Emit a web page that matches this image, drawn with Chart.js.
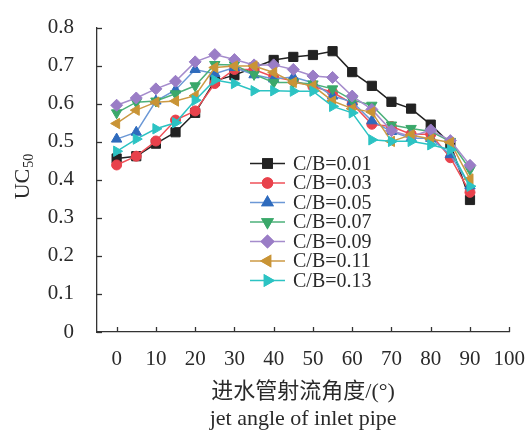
<!DOCTYPE html>
<html>
<head>
<meta charset="UTF-8" />
<title>UC50</title>
<script src="https://cdn.jsdelivr.net/npm/chart.js@4.4.0/dist/chart.umd.min.js"></script>
<style>
	html, body { margin: 0; padding: 0; background: #fff; }
	.chart { width: 532px; height: 434px; position: relative; }
</style>
</head>
<body>
<div class="chart"><canvas id="ucChart"></canvas></div>
<script>
// угол струи, град
var angles = [0, 5, 10, 15, 20, 25, 30, 35, 40, 45, 50, 55, 60, 65, 70, 75, 80, 85, 90];

var cb001 = [0.456, 0.462, 0.495, 0.525, 0.576, 0.660, 0.675, 0.695, 0.715, 0.723, 0.728, 0.738, 0.683, 0.647, 0.605, 0.587, 0.545, 0.495, 0.347];
var cb003 = [0.439, 0.462, 0.502, 0.557, 0.581, 0.653, 0.690, 0.690, 0.670, 0.660, 0.645, 0.630, 0.600, 0.546, 0.540, 0.520, 0.520, 0.458, 0.367];
var cb005 = [0.507, 0.525, 0.607, 0.636, 0.690, 0.679, 0.695, 0.676, 0.665, 0.670, 0.655, 0.620, 0.605, 0.555, 0.527, 0.509, 0.509, 0.466, 0.384];
var cb007 = [0.576, 0.604, 0.607, 0.626, 0.647, 0.703, 0.702, 0.677, 0.656, 0.656, 0.652, 0.639, 0.610, 0.596, 0.544, 0.535, 0.527, 0.501, 0.427];
var cb009 = [0.596, 0.615, 0.639, 0.659, 0.710, 0.729, 0.716, 0.702, 0.702, 0.690, 0.673, 0.669, 0.620, 0.585, 0.529, 0.514, 0.531, 0.503, 0.438];
var cb011 = [0.548, 0.583, 0.604, 0.607, 0.621, 0.695, 0.699, 0.699, 0.682, 0.656, 0.647, 0.607, 0.587, 0.578, 0.501, 0.518, 0.507, 0.498, 0.402];
var cb013 = [0.475, 0.507, 0.534, 0.550, 0.609, 0.662, 0.653, 0.634, 0.634, 0.633, 0.633, 0.593, 0.576, 0.505, 0.501, 0.501, 0.492, 0.479, 0.383];

var seriesNames = ['C/B=0.01', 'C/B=0.03', 'C/B=0.05', 'C/B=0.07', 'C/B=0.09', 'C/B=0.11', 'C/B=0.13'];
var seriesValues = [cb001, cb003, cb005, cb007, cb009, cb011, cb013];

var xTicks = [0, 10, 20, 30, 40, 50, 60, 70, 80, 90, 100];
var yTicks = [0, 0.1, 0.2, 0.3, 0.4, 0.5, 0.6, 0.7, 0.8];

var xTitle = ['进水管射流角度/(°)', 'jet angle of inlet pipe'];

// оформление серий
var markColors = ['#222222', '#e8424c', '#2f6bbd', '#3aa86a', '#9a7dc6', '#c99436', '#2cc3c3'];
var lineColors = ['#222222', '#ef5058', '#6b98d6', '#4cb07a', '#a58ccc', '#cc9a44', '#2cc3c3'];
var shapes = ['rect', 'circle', 'triangle', 'triangle', 'rectRot', 'triangle', 'triangle'];
var rotations = [0, 0, 0, 180, 0, -90, 90];
var radii = [6.5, 5, 6, 6, 6, 6, 6];

var serif = "'Liberation Serif', 'Times New Roman', 'Noto Sans CJK SC', serif";
var textColor = '#2a2a2a';

var datasets = seriesNames.map(function (name, i) {
	return {
		label: name,
		data: angles.map(function (a, j) { return { x: a, y: seriesValues[i][j] }; }),
		borderColor: lineColors[i],
		backgroundColor: markColors[i],
		pointBorderColor: markColors[i],
		pointBackgroundColor: markColors[i],
		pointStyle: shapes[i],
		pointRotation: rotations[i],
		pointRadius: radii[i],
		pointBorderWidth: 1,
		borderWidth: 1.5,
		tension: 0,
		order: seriesNames.length - i
	};
});

// засечки внутрь, подпись UC50 и легенда
var extras = {
	id: 'extras',
	afterDraw: function (chart) {
		var ctx = chart.ctx;
		var xs = chart.scales.x, ys = chart.scales.y;
		var area = chart.chartArea;
		ctx.save();
		ctx.strokeStyle = '#333';
		ctx.lineWidth = 1.3;
		xTicks.forEach(function (v) {
			var px = Math.round(xs.getPixelForValue(v)) + 0.5;
			ctx.beginPath();
			ctx.moveTo(px, area.bottom);
			ctx.lineTo(px, area.bottom - 5);
			ctx.stroke();
		});
		yTicks.forEach(function (v) {
			var py = Math.round(ys.getPixelForValue(v)) + 0.5;
			ctx.beginPath();
			ctx.moveTo(area.left, py);
			ctx.lineTo(area.left + 5, py);
			ctx.stroke();
		});

		// UC50
		ctx.translate(23, 177);
		ctx.rotate(-Math.PI / 2);
		ctx.fillStyle = textColor;
		ctx.textBaseline = 'middle';
		ctx.font = '22px ' + serif;
		var w1 = ctx.measureText('UC').width;
		ctx.font = '14px ' + serif;
		var w2 = ctx.measureText('50').width;
		var sx = -(w1 + w2) / 2;
		ctx.font = '22px ' + serif;
		ctx.textAlign = 'left';
		ctx.fillText('UC', sx, 0);
		ctx.font = '14px ' + serif;
		ctx.fillText('50', sx + w1 + 1, 6);
		ctx.restore();

		// легенда
		ctx.save();
		ctx.font = '20px ' + serif;
		ctx.textBaseline = 'middle';
		ctx.textAlign = 'left';
		chart.data.datasets.forEach(function (ds, i) {
			var y = 163.5 + i * 19.5;
			ctx.strokeStyle = ds.borderColor;
			ctx.lineWidth = 1.5;
			ctx.beginPath();
			ctx.moveTo(250, y);
			ctx.lineTo(285, y);
			ctx.stroke();
			Chart.helpers.drawPoint(ctx, {
				pointStyle: ds.pointStyle,
				rotation: ds.pointRotation,
				radius: ds.pointRadius,
				borderWidth: 1
			}, 267.5, y);
			ctx.fillStyle = ds.backgroundColor;
			ctx.strokeStyle = ds.backgroundColor;
			ctx.fill();
			ctx.stroke();
			ctx.fillStyle = textColor;
			ctx.fillText(ds.label, 293, y + 1);
		});
		ctx.restore();
	}
};

new Chart(document.getElementById('ucChart'), {
	type: 'line',
	data: { datasets: datasets },
	options: {
		responsive: true,
		maintainAspectRatio: false,
		animation: false,
		// отступы подобраны так, чтобы область графика была 97..512 x 22.5..332
		layout: { autoPadding: false, padding: { top: 17.4, right: 17.25, bottom: 0, left: 0 } },
		plugins: {
			legend: { display: false },
			tooltip: { enabled: false }
		},
		scales: {
			x: {
				type: 'linear',
				min: -5,
				max: 100,
				afterBuildTicks: function (scale) {
					scale.ticks = xTicks.map(function (v) { return { value: v }; });
				},
				afterFit: function (scale) { scale.height = 102; },
				grid: { display: false },
				border: { display: true, color: '#333', width: 1.3 },
				ticks: {
					color: textColor,
					padding: 7,
					maxRotation: 0,
					font: { family: serif, size: 21 }
				},
				title: {
					display: true,
					text: xTitle,
					color: textColor,
					padding: { top: 0, bottom: 1 },
					font: { family: serif, size: 22, lineHeight: 1.25 }
				}
			},
			y: {
				min: 0,
				max: 0.8,
				afterBuildTicks: function (scale) {
					scale.ticks = yTicks.map(function (v) { return { value: v }; });
				},
				afterFit: function (scale) { scale.width = 97; },
				grid: { display: false },
				border: { display: true, color: '#333', width: 1.3 },
				ticks: {
					color: textColor,
					padding: 15,
					font: { family: serif, size: 21 }
				}
			}
		}
	},
	plugins: [extras]
});
</script>
</body>
</html>
